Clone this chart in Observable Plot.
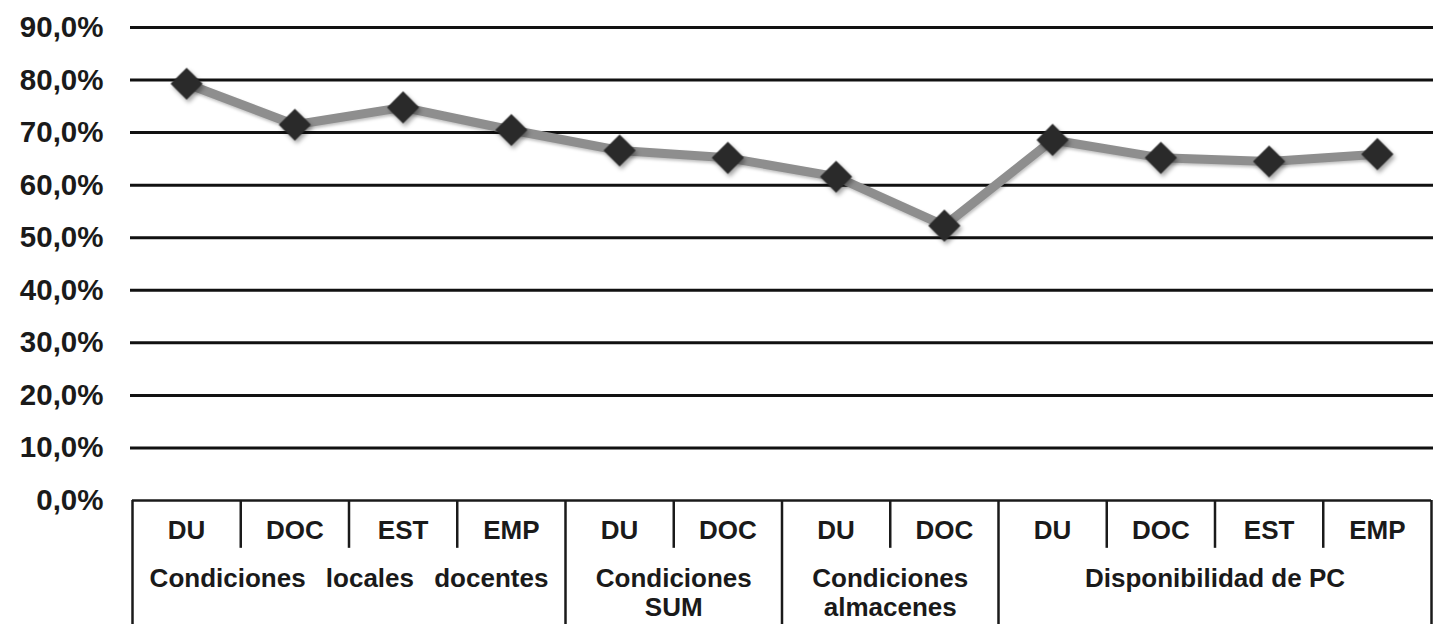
<!DOCTYPE html>
<html>
<head>
<meta charset="utf-8">
<script src="https://cdn.jsdelivr.net/npm/d3@7"></script>
<script src="https://cdn.jsdelivr.net/npm/@observablehq/plot@0.6"></script>
<style>
  html, body { margin: 0; padding: 0; background: #fff; }
  #chart svg g[aria-label="dot"] { filter: drop-shadow(2px 3px 2px rgba(0,0,0,0.35)); }
  #chart svg g[aria-label="line"] { filter: drop-shadow(1px 2px 1.5px rgba(0,0,0,0.25)); }
</style>
</head>
<body>
<div id="chart"></div>
<script>
// ---- data ----
const subcategories = ["DU", "DOC", "EST", "EMP", "DU", "DOC", "DU", "DOC", "DU", "DOC", "EST", "EMP"];
const groups = ["Condiciones locales docentes", "Condiciones\nSUM", "Condiciones\nalmacenes", "Disponibilidad de PC"];
const groupSizes = [4, 2, 2, 4];
const values = [79.3, 71.5, 74.8, 70.5, 66.6, 65.2, 61.6, 52.3, 68.6, 65.2, 64.5, 65.9];
const yTicks = [0, 10, 20, 30, 40, 50, 60, 70, 80, 90];

// ---- derived tables ----
const points = values.map((v, i) => ({i, v, sub: subcategories[i]}));
const groupStarts = groupSizes.map((s, k) => d3.sum(groupSizes.slice(0, k)));
const groupRows = groups.map((g, k) => ({name: g, center: groupStarts[k] + (groupSizes[k] - 1) / 2}));
const groupBounds = [...groupStarts.map(s => s - 0.5), subcategories.length - 0.5];
const subBounds = [];
groupSizes.forEach((s, k) => { for (let j = 1; j < s; j++) subBounds.push(groupStarts[k] + j - 0.5); });

const font = "'Liberation Sans', Arial, sans-serif";

const plot = Plot.plot({
  width: 1433,
  height: 624,
  marginLeft: 130,
  marginRight: 0,
  marginTop: 27,
  marginBottom: 124,
  style: {fontFamily: font, background: "#fff", color: "#1a1a1a"},
  x: {domain: [-0.5, subcategories.length - 0.5], range: [132, 1431], axis: null},
  y: {domain: [0, 90], axis: null},
  marks: [
    Plot.ruleY(yTicks.filter(d => d > 0), {stroke: "#111", strokeWidth: 3}),
    Plot.axisY(yTicks, {
      label: null,
      tickSize: 0, tickPadding: 27, fontSize: 29.5, fontWeight: "bold",
      tickFormat: d => d.toFixed(1).replace(".", ",") + "%", fill: "#1a1a1a"
    }),
    // category table
    Plot.ruleY([0], {x1: groupBounds[0], x2: groupBounds[groupBounds.length - 1], stroke: "#1a1a1a", strokeWidth: 2.5}),
    Plot.ruleX(groupBounds, {y1: 0, y2: -30, stroke: "#1a1a1a", strokeWidth: 2.5}),
    Plot.ruleX(subBounds, {y1: 0, y2: -9.1, stroke: "#1a1a1a", strokeWidth: 2.5}),
    Plot.text(points, {x: "i", y: 0, text: "sub", dy: 30, fontSize: 26, fontWeight: "bold", fill: "#1a1a1a"}),
    Plot.text(groupRows, {x: "center", y: 0, text: "name", dy: 66, lineAnchor: "top", lineHeight: 1.12, fontSize: 26, fontWeight: "bold", fill: "#1a1a1a"}),
    // series
    Plot.line(points, {x: "i", y: "v", stroke: "#8e8e8e", strokeWidth: 9}),
    Plot.dot(points, {x: "i", y: "v", symbol: "diamond2", r: 14.5, fill: "#2a2a2a", stroke: "none"})
  ]
});
document.getElementById("chart").appendChild(plot);
// wider word spacing on the first group label, as in the original
d3.select(plot).selectAll("text").filter(function() { return this.textContent === groups[0]; })
  .style("word-spacing", "13px");
</script>
</body>
</html>
